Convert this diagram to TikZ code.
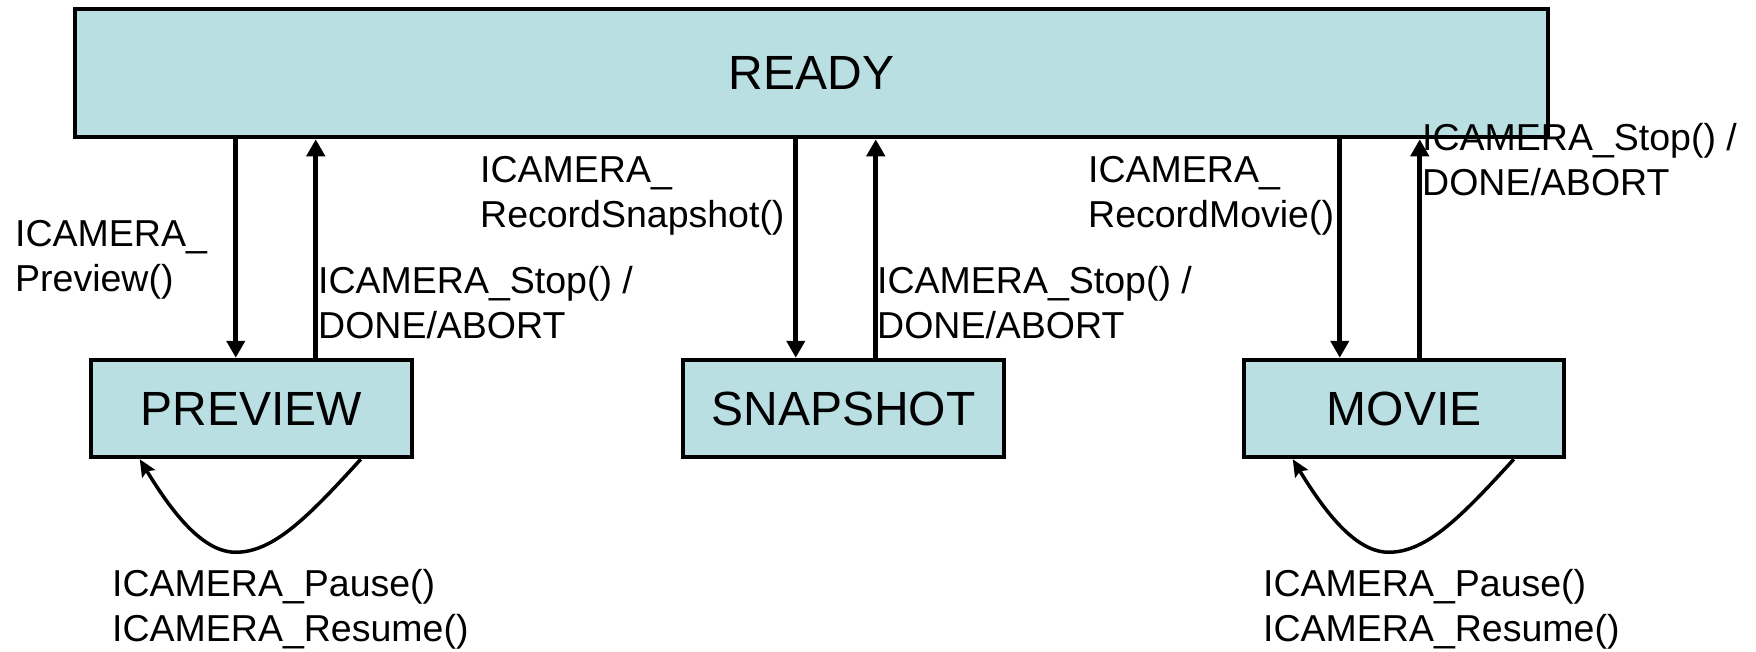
\documentclass[tikz,border=0pt]{standalone}
\usepackage{fontspec}
\setmainfont{Liberation Sans}
\usetikzlibrary{arrows.meta}
\definecolor{statefill}{RGB}{185,223,227}
\begin{document}
\begin{tikzpicture}[x=1pt,y=-1pt,
  state/.style={draw, line width=4.5pt, fill=statefill, inner sep=0pt,
                font=\fontsize{48}{56}\selectfont},
  trans/.style={line width=5pt, -{Triangle[length=17pt,width=18pt]}},
  selfloop/.style={line width=3.5pt, -{Stealth[length=17pt,width=15pt,inset=3pt]}},
  lbl/.style={anchor=base west, align=left, inner sep=0pt,
              font=\fontsize{37.5}{45}\selectfont}]
\useasboundingbox (0,0) rectangle (1756,651);

% states
\node[state, minimum width=1473pt, minimum height=128pt] (ready)    at (811.5,73)   {READY};
\node[state, minimum width=321pt,  minimum height=97pt]  (preview)  at (251.5,408.5) {PREVIEW};
\node[state, minimum width=321pt,  minimum height=97pt]  (snapshot) at (843.5,408.5) {SNAPSHOT};
\node[state, minimum width=320pt,  minimum height=97pt]  (movie)    at (1404,408.5)  {MOVIE};

% attachment points of the vertical transitions
\coordinate (pdown) at ([xshift=147pt]preview.north west);
\coordinate (pup)   at ([xshift=227pt]preview.north west);
\coordinate (sdown) at ([xshift=115pt]snapshot.north west);
\coordinate (sup1)  at ([xshift=195pt]snapshot.north west);
\coordinate (mdown) at ([xshift=98pt]movie.north west);
\coordinate (mup)   at ([xshift=178pt]movie.north west);

\draw[trans] (pdown |- ready.south) -- (pdown);
\draw[trans] (pup) -- (pup |- ready.south);
\draw[trans] (sdown |- ready.south) -- (sdown);
\draw[trans] (sup1) -- (sup1 |- ready.south);
\draw[trans] (mdown |- ready.south) -- (mdown);
\draw[trans] (mup) -- (mup |- ready.south);

% pause / resume self loops
\draw[selfloop] ([xshift=272pt]preview.south west)
  .. controls +(-52,57) and +(38,0) .. ([xshift=147pt,yshift=-93pt]preview.south west)
  .. controls +(-32,0) and +(34,56) .. ([xshift=51pt]preview.south west);
\draw[selfloop] ([xshift=272pt]movie.south west)
  .. controls +(-52,57) and +(38,0) .. ([xshift=147pt,yshift=-93pt]movie.south west)
  .. controls +(-32,0) and +(34,56) .. ([xshift=51pt]movie.south west);

% transition labels (anchored at the baseline of their last line)
\node[lbl] (lpreview) at (15,291)   {ICAMERA\_\\Preview()};
\node[lbl] (lpstop)   at (318,338)  {ICAMERA\_Stop() /\\DONE/ABORT};
\node[lbl] (lsnap)    at (480,227)  {ICAMERA\_\\RecordSnapshot()};
\node[lbl] (lsstop)   at (877,338)  {ICAMERA\_Stop() /\\DONE/ABORT};
\node[lbl] (lmovie)   at (1088,227) {ICAMERA\_\\RecordMovie()};
\node[lbl] (lmstop)   at (1422,195) {ICAMERA\_Stop() /\\DONE/ABORT};
\node[lbl] (lppause)  at (112,641)  {ICAMERA\_Pause()\\ICAMERA\_Resume()};
\node[lbl] (lmpause)  at (1263,641) {ICAMERA\_Pause()\\ICAMERA\_Resume()};
\end{tikzpicture}
\end{document}
